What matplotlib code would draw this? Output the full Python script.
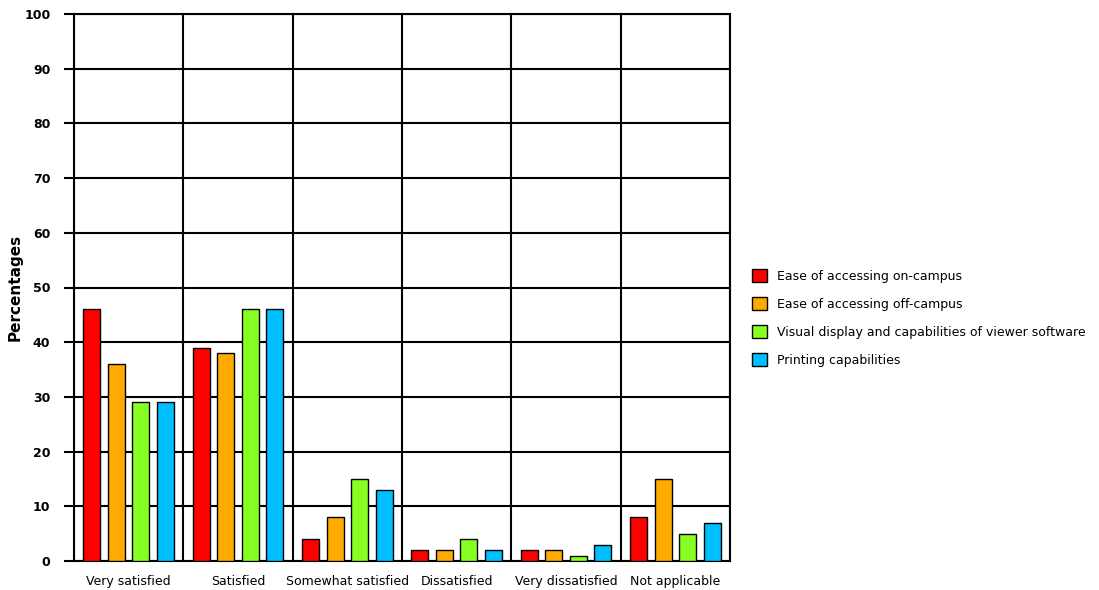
import numpy as np
import matplotlib
matplotlib.use('Agg')
import matplotlib.pyplot as plt
from matplotlib.ticker import FixedLocator

categories = ['Very satisfied', 'Satisfied', 'Somewhat satisfied', 'Dissatisfied',
              'Very dissatisfied', 'Not applicable']
series_names = ['Ease of accessing on-campus', 'Ease of accessing off-campus',
                'Visual display and capabilities of viewer software', 'Printing capabilities']
on_campus = [46, 39, 4, 2, 2, 8]
off_campus = [36, 38, 8, 2, 2, 15]
viewer = [29, 46, 15, 4, 1, 5]
printing = [29, 46, 13, 2, 3, 7]
yticks = [0, 10, 20, 30, 40, 50, 60, 70, 80, 90, 100]

colors = ['#FF0000', '#FFAA00', '#88FF22', '#00BFFF']
series = [on_campus, off_campus, viewer, printing]

fig = plt.figure(figsize=(10.99, 5.90), dpi=100)
ax = fig.add_axes([74 / 1099, 29 / 590, (730 - 74) / 1099, (561 - 14) / 590])

x = np.arange(len(categories))
step = 0.225
width = 0.155
for i, (vals, col, name) in enumerate(zip(series, colors, series_names)):
    ax.bar(x + (i - 1.5) * step, vals, width=width, color=col,
           edgecolor='black', linewidth=1.0, label=name, zorder=3)

ax.set_xlim(-0.5, len(categories) - 0.5)
ax.set_ylim(0, 100)
ax.set_yticks(yticks)
ax.set_yticklabels([str(t) for t in yticks], fontsize=9, fontweight='bold')
ax.set_xticks(x)
ax.set_xticklabels(categories, fontsize=9)
ax.xaxis.set_minor_locator(FixedLocator(np.arange(len(categories) + 1) - 0.5))
ax.tick_params(axis='x', which='both', length=0, pad=10)
ax.tick_params(axis='y', length=7, width=1.5, color='black', pad=10)
ax.grid(axis='y', which='major', color='black', linewidth=1.5, zorder=0)
ax.grid(axis='x', which='minor', color='black', linewidth=1.5, zorder=0)
ax.set_axisbelow(True)
for s in ax.spines.values():
    s.set_color('black')
    s.set_linewidth(1.5)

ax.set_ylabel('Percentages', fontsize=11, fontweight='bold')
ax.yaxis.set_label_coords((23 - 74) / 656, 0.5)

fig.legend(loc='center left', bbox_to_anchor=(752 / 1099, 1 - 318 / 590),
           frameon=False, fontsize=9, handlelength=1.2, handleheight=1.2,
           labelspacing=1.15, borderpad=0, borderaxespad=0, handletextpad=0.8)

fig.savefig('out.png', dpi=100)
